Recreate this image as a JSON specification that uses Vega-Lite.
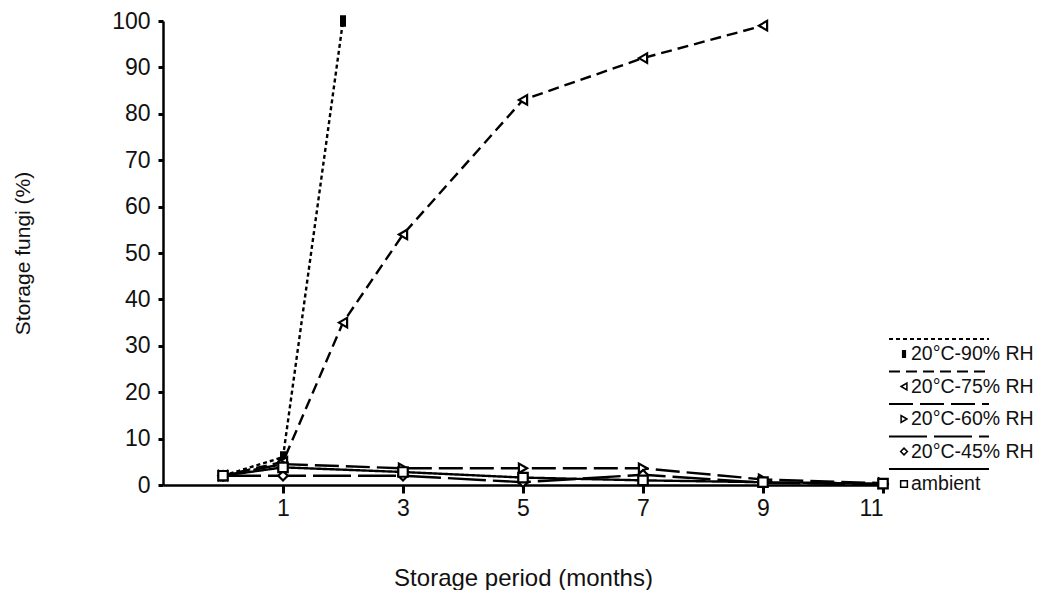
{
  "$schema": "https://vega.github.io/schema/vega-lite/v6.json",
  "background": "white",
  "padding": {"left": 12, "top": 10, "right": 0, "bottom": 0},
  "bounds": "flush",
  "spacing": 6,
  "config": {
    "view": {"stroke": null},
    "font": "Liberation Sans",
    "axis": {
      "grid": false,
      "domainColor": "black",
      "domainWidth": 2.5,
      "tickColor": "black",
      "tickWidth": 3,
      "labelColor": "#111",
      "titleColor": "#111",
      "labelFont": "Liberation Sans",
      "titleFont": "Liberation Sans",
      "titleFontWeight": "normal"
    }
  },
  "datasets": {
    "fungi": [
      {"series": "20°C-90% RH", "month": 0, "fungi": 2},
      {"series": "20°C-90% RH", "month": 1, "fungi": 6},
      {"series": "20°C-90% RH", "month": 2, "fungi": 100},
      {"series": "20°C-75% RH", "month": 0, "fungi": 2},
      {"series": "20°C-75% RH", "month": 1, "fungi": 5},
      {"series": "20°C-75% RH", "month": 2, "fungi": 35},
      {"series": "20°C-75% RH", "month": 3, "fungi": 54},
      {"series": "20°C-75% RH", "month": 5, "fungi": 83},
      {"series": "20°C-75% RH", "month": 7, "fungi": 92},
      {"series": "20°C-75% RH", "month": 9, "fungi": 99},
      {"series": "20°C-60% RH", "month": 0, "fungi": 2},
      {"series": "20°C-60% RH", "month": 1, "fungi": 4.5},
      {"series": "20°C-60% RH", "month": 3, "fungi": 3.6},
      {"series": "20°C-60% RH", "month": 5, "fungi": 3.6},
      {"series": "20°C-60% RH", "month": 7, "fungi": 3.6},
      {"series": "20°C-60% RH", "month": 9, "fungi": 1.2},
      {"series": "20°C-60% RH", "month": 11, "fungi": 0.4},
      {"series": "20°C-45% RH", "month": 0, "fungi": 2},
      {"series": "20°C-45% RH", "month": 1, "fungi": 2},
      {"series": "20°C-45% RH", "month": 3, "fungi": 2},
      {"series": "20°C-45% RH", "month": 5, "fungi": 0.6},
      {"series": "20°C-45% RH", "month": 7, "fungi": 2.2},
      {"series": "20°C-45% RH", "month": 9, "fungi": 0.5},
      {"series": "20°C-45% RH", "month": 11, "fungi": 0.1},
      {"series": "ambient", "month": 0, "fungi": 2},
      {"series": "ambient", "month": 1, "fungi": 3.8},
      {"series": "ambient", "month": 3, "fungi": 2.8},
      {"series": "ambient", "month": 5, "fungi": 1.6},
      {"series": "ambient", "month": 7, "fungi": 1},
      {"series": "ambient", "month": 9, "fungi": 0.6},
      {"series": "ambient", "month": 11, "fungi": 0.3}
    ],
    "key": [
      {"series": "20°C-90% RH"},
      {"series": "20°C-75% RH"},
      {"series": "20°C-60% RH"},
      {"series": "20°C-45% RH"},
      {"series": "ambient"}
    ]
  },
  "hconcat": [
    {
      "width": 720,
      "height": 464,
      "data": {"name": "fungi"},
      "encoding": {
        "x": {
          "field": "month",
          "type": "quantitative",
          "scale": {"domain": [-1, 11], "nice": false, "zero": false},
          "axis": {
            "values": [1, 3, 5, 7, 9, 11],
            "tickSize": 8,
            "labelPadding": 4,
            "labelFontSize": 23,
            "title": "Storage period (months)",
            "titleFontSize": 24,
            "titlePadding": 46
          }
        },
        "y": {
          "field": "fungi",
          "type": "quantitative",
          "scale": {"domain": [0, 100], "nice": false},
          "axis": {
            "values": [0, 10, 20, 30, 40, 50, 60, 70, 80, 90, 100],
            "tickSize": 5,
            "labelPadding": 8,
            "labelFontSize": 23,
            "title": "Storage fungi (%)",
            "titleFontSize": 21,
            "titlePadding": 78
          }
        }
      },
      "layer": [
        {
          "mark": {"type": "line", "color": "black", "strokeWidth": 2.4},
          "encoding": {
            "detail": {"field": "series"},
            "strokeDash": {
              "field": "series",
              "type": "nominal",
              "scale": {
                "domain": ["20°C-90% RH", "20°C-75% RH", "20°C-60% RH", "20°C-45% RH", "ambient"],
                "range": [[4, 3], [11, 6], [24, 7], [38, 7], [1, 0]]
              },
              "legend": null
            }
          }
        },
        {
          "mark": {"type": "point", "filled": true, "stroke": "black", "strokeWidth": 2.2, "opacity": 1, "size": 90},
          "encoding": {
            "shape": {
              "field": "series",
              "type": "nominal",
              "scale": {
                "domain": ["20°C-90% RH", "20°C-75% RH", "20°C-60% RH", "20°C-45% RH", "ambient"],
                "range": ["M-0.4,-1H0.4V1H-0.4Z", "triangle-left", "triangle-right", "diamond", "square"]
              },
              "legend": null
            },
            "fill": {
              "field": "series",
              "type": "nominal",
              "scale": {
                "domain": ["20°C-90% RH", "20°C-75% RH", "20°C-60% RH", "20°C-45% RH", "ambient"],
                "range": ["black", "white", "white", "white", "white"]
              },
              "legend": null
            }
          }
        }
      ]
    },
    {
      "width": 150,
      "height": 464,
      "data": {"name": "key"},
      "encoding": {
        "y": {
          "field": "series",
          "type": "ordinal",
          "scale": {
            "type": "point",
            "padding": 0,
            "domain": ["20°C-90% RH", "20°C-75% RH", "20°C-60% RH", "20°C-45% RH", "ambient"],
            "range": [333, 463]
          },
          "axis": null
        }
      },
      "layer": [
        {
          "mark": {"type": "rule", "color": "black", "strokeWidth": 2, "yOffset": -15},
          "encoding": {
            "x": {"datum": 0, "type": "quantitative", "scale": {"domain": [0, 150], "nice": false}, "axis": null},
            "x2": {"datum": 100},
            "strokeDash": {
              "field": "series",
              "type": "nominal",
              "scale": {
                "domain": ["20°C-90% RH", "20°C-75% RH", "20°C-60% RH", "20°C-45% RH", "ambient"],
                "range": [[4, 3], [11, 6], [24, 7], [38, 7], [1, 0]]
              },
              "legend": null
            }
          }
        },
        {
          "mark": {"type": "point", "filled": true, "stroke": "black", "strokeWidth": 1.5, "opacity": 1, "size": 45},
          "encoding": {
            "x": {"datum": 15, "type": "quantitative"},
            "shape": {
              "field": "series",
              "type": "nominal",
              "scale": {
                "domain": ["20°C-90% RH", "20°C-75% RH", "20°C-60% RH", "20°C-45% RH", "ambient"],
                "range": ["M-0.4,-1H0.4V1H-0.4Z", "triangle-left", "triangle-right", "diamond", "square"]
              },
              "legend": null
            },
            "fill": {
              "field": "series",
              "type": "nominal",
              "scale": {
                "domain": ["20°C-90% RH", "20°C-75% RH", "20°C-60% RH", "20°C-45% RH", "ambient"],
                "range": ["black", "white", "white", "white", "white"]
              },
              "legend": null
            }
          }
        },
        {
          "mark": {"type": "text", "align": "left", "baseline": "middle", "fontSize": 19.5, "color": "#111", "font": "Liberation Sans"},
          "encoding": {
            "x": {"datum": 22, "type": "quantitative"},
            "text": {"field": "series"}
          }
        }
      ]
    }
  ]
}
